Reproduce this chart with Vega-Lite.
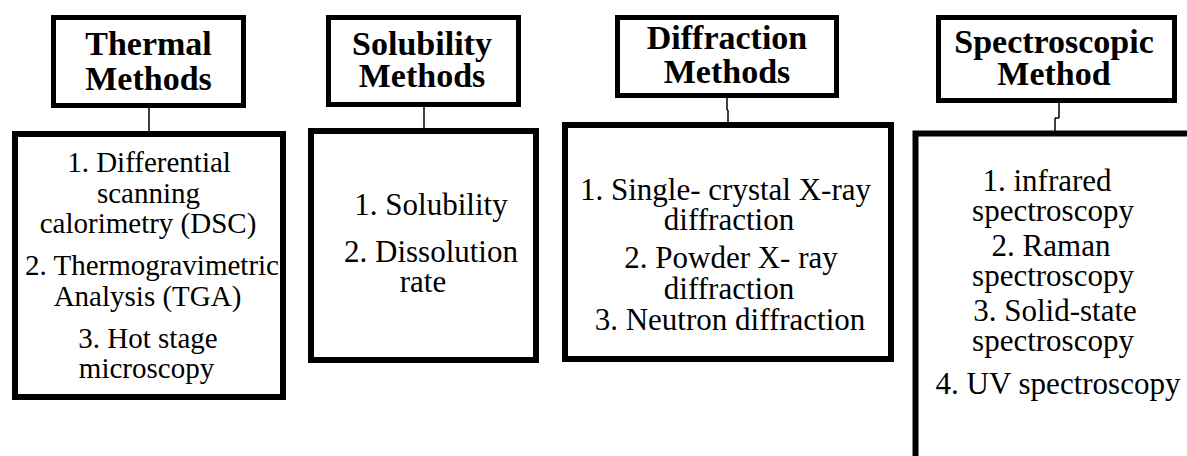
{
  "$schema": "https://vega.github.io/schema/vega-lite/v6.json",
  "width": 1187,
  "height": 456,
  "autosize": {"type": "fit", "contains": "padding"},
  "padding": 0,
  "background": "white",
  "config": {"view": {"stroke": null}},
  "datasets": {
    "headers": [
      {"box": "Thermal", "x1": 53.5, "x2": 243.5, "y1": 17.5, "y2": 105.5},
      {"box": "Solubility", "x1": 328.5, "x2": 518.5, "y1": 17.5, "y2": 104.5},
      {"box": "Diffraction", "x1": 617.5, "x2": 836.5, "y1": 17.5, "y2": 95.5},
      {"box": "Spectroscopic", "x1": 938.5, "x2": 1174.5, "y1": 17.5, "y2": 100.5}
    ],
    "contents": [
      {"box": "Thermal", "x1": 15, "x2": 283, "y1": 134, "y2": 397},
      {"box": "Solubility", "x1": 311, "x2": 536, "y1": 131, "y2": 360},
      {"box": "Diffraction", "x1": 565, "x2": 891, "y1": 125, "y2": 359},
      {"box": "Spectroscopic", "x1": 915.5, "x2": 1200, "y1": 133.5, "y2": 480}
    ],
    "connectors": [
      {"box": "Thermal", "x1": 149, "x2": 149, "y1": 106, "y2": 132},
      {"box": "Solubility", "x1": 424, "x2": 424, "y1": 105, "y2": 129},
      {"box": "Diffraction", "x1": 727, "x2": 727, "y1": 96, "y2": 110},
      {"box": "Diffraction", "x1": 727, "x2": 728, "y1": 110, "y2": 110},
      {"box": "Diffraction", "x1": 728, "x2": 728, "y1": 110, "y2": 123},
      {"box": "Spectroscopic", "x1": 1059, "x2": 1059, "y1": 101, "y2": 118},
      {"box": "Spectroscopic", "x1": 1055, "x2": 1059, "y1": 118, "y2": 118},
      {"box": "Spectroscopic", "x1": 1055, "x2": 1055, "y1": 118, "y2": 131}
    ],
    "titles": [
      {"box": "Thermal", "label": "Thermal", "x": 148.5, "y": 55},
      {"box": "Thermal", "label": "Methods", "x": 148.5, "y": 90},
      {"box": "Solubility", "label": "Solubility", "x": 422, "y": 55},
      {"box": "Solubility", "label": "Methods", "x": 422, "y": 87},
      {"box": "Diffraction", "label": "Diffraction", "x": 727, "y": 49},
      {"box": "Diffraction", "label": "Methods", "x": 727, "y": 83},
      {"box": "Spectroscopic", "label": "Spectroscopic", "x": 1054, "y": 53},
      {"box": "Spectroscopic", "label": "Method", "x": 1054, "y": 85}
    ],
    "items": [
      {"box": "Thermal", "label": "1. Differential", "x": 149, "y": 172},
      {"box": "Thermal", "label": "scanning", "x": 148.5, "y": 203},
      {"box": "Thermal", "label": "calorimetry (DSC)", "x": 148, "y": 233},
      {"box": "Thermal", "label": "2. Thermogravimetric", "x": 152, "y": 275},
      {"box": "Thermal", "label": "Analysis (TGA)", "x": 147.5, "y": 306},
      {"box": "Thermal", "label": "3. Hot stage", "x": 148, "y": 348},
      {"box": "Thermal", "label": "microscopy", "x": 146.5, "y": 378},
      {"box": "Solubility", "label": "1. Solubility", "x": 431, "y": 215},
      {"box": "Solubility", "label": "2. Dissolution", "x": 431, "y": 262},
      {"box": "Solubility", "label": "rate", "x": 423, "y": 292},
      {"box": "Diffraction", "label": "1. Single- crystal X-ray", "x": 725.5, "y": 200},
      {"box": "Diffraction", "label": "diffraction", "x": 729, "y": 230},
      {"box": "Diffraction", "label": "2. Powder X- ray", "x": 731, "y": 268},
      {"box": "Diffraction", "label": "diffraction", "x": 729, "y": 299},
      {"box": "Diffraction", "label": "3. Neutron diffraction", "x": 730, "y": 330},
      {"box": "Spectroscopic", "label": "1. infrared", "x": 1047, "y": 191},
      {"box": "Spectroscopic", "label": "spectroscopy", "x": 1053, "y": 221},
      {"box": "Spectroscopic", "label": "2. Raman", "x": 1051, "y": 256},
      {"box": "Spectroscopic", "label": "spectroscopy", "x": 1053, "y": 286},
      {"box": "Spectroscopic", "label": "3. Solid-state", "x": 1055, "y": 321},
      {"box": "Spectroscopic", "label": "spectroscopy", "x": 1053, "y": 351},
      {"box": "Spectroscopic", "label": "4. UV spectroscopy", "x": 1058, "y": 394}
    ]
  },
  "layer": [
    {
      "data": {"name": "headers"},
      "mark": {"type": "rect", "fill": "white", "stroke": "black", "strokeWidth": 5, "clip": true},
      "encoding": {
        "x": {"field": "x1", "type": "quantitative", "scale": {"domain": [0, 1187], "nice": false, "zero": false}, "axis": null},
        "x2": {"field": "x2"},
        "y": {"field": "y1", "type": "quantitative", "scale": {"domain": [0, 456], "nice": false, "zero": false, "reverse": true}, "axis": null},
        "y2": {"field": "y2"}
      }
    },
    {
      "data": {"name": "contents"},
      "mark": {"type": "rect", "fill": "white", "stroke": "black", "strokeWidth": 6, "clip": true},
      "encoding": {
        "x": {"field": "x1", "type": "quantitative"},
        "x2": {"field": "x2"},
        "y": {"field": "y1", "type": "quantitative"},
        "y2": {"field": "y2"}
      }
    },
    {
      "data": {"name": "connectors"},
      "mark": {"type": "rule", "color": "black", "strokeWidth": 1.5, "clip": true},
      "encoding": {
        "x": {"field": "x1", "type": "quantitative"},
        "x2": {"field": "x2"},
        "y": {"field": "y1", "type": "quantitative"},
        "y2": {"field": "y2"}
      }
    },
    {
      "data": {"name": "titles"},
      "mark": {"type": "text", "font": "'Liberation Serif', 'Times New Roman', 'DejaVu Serif', serif", "fontSize": 34, "fontWeight": "bold", "color": "black", "align": "center", "baseline": "alphabetic"},
      "encoding": {
        "x": {"field": "x", "type": "quantitative"},
        "y": {"field": "y", "type": "quantitative"},
        "text": {"field": "label"}
      }
    },
    {
      "data": {"name": "items"},
      "transform": [{"filter": "datum.box === 'Thermal'"}],
      "mark": {"type": "text", "font": "'Liberation Serif', 'Times New Roman', 'DejaVu Serif', serif", "fontSize": 29, "color": "black", "align": "center", "baseline": "alphabetic"},
      "encoding": {
        "x": {"field": "x", "type": "quantitative"},
        "y": {"field": "y", "type": "quantitative"},
        "text": {"field": "label"}
      }
    },
    {
      "data": {"name": "items"},
      "transform": [{"filter": "datum.box !== 'Thermal'"}],
      "mark": {"type": "text", "font": "'Liberation Serif', 'Times New Roman', 'DejaVu Serif', serif", "fontSize": 31, "color": "black", "align": "center", "baseline": "alphabetic"},
      "encoding": {
        "x": {"field": "x", "type": "quantitative"},
        "y": {"field": "y", "type": "quantitative"},
        "text": {"field": "label"}
      }
    }
  ]
}
